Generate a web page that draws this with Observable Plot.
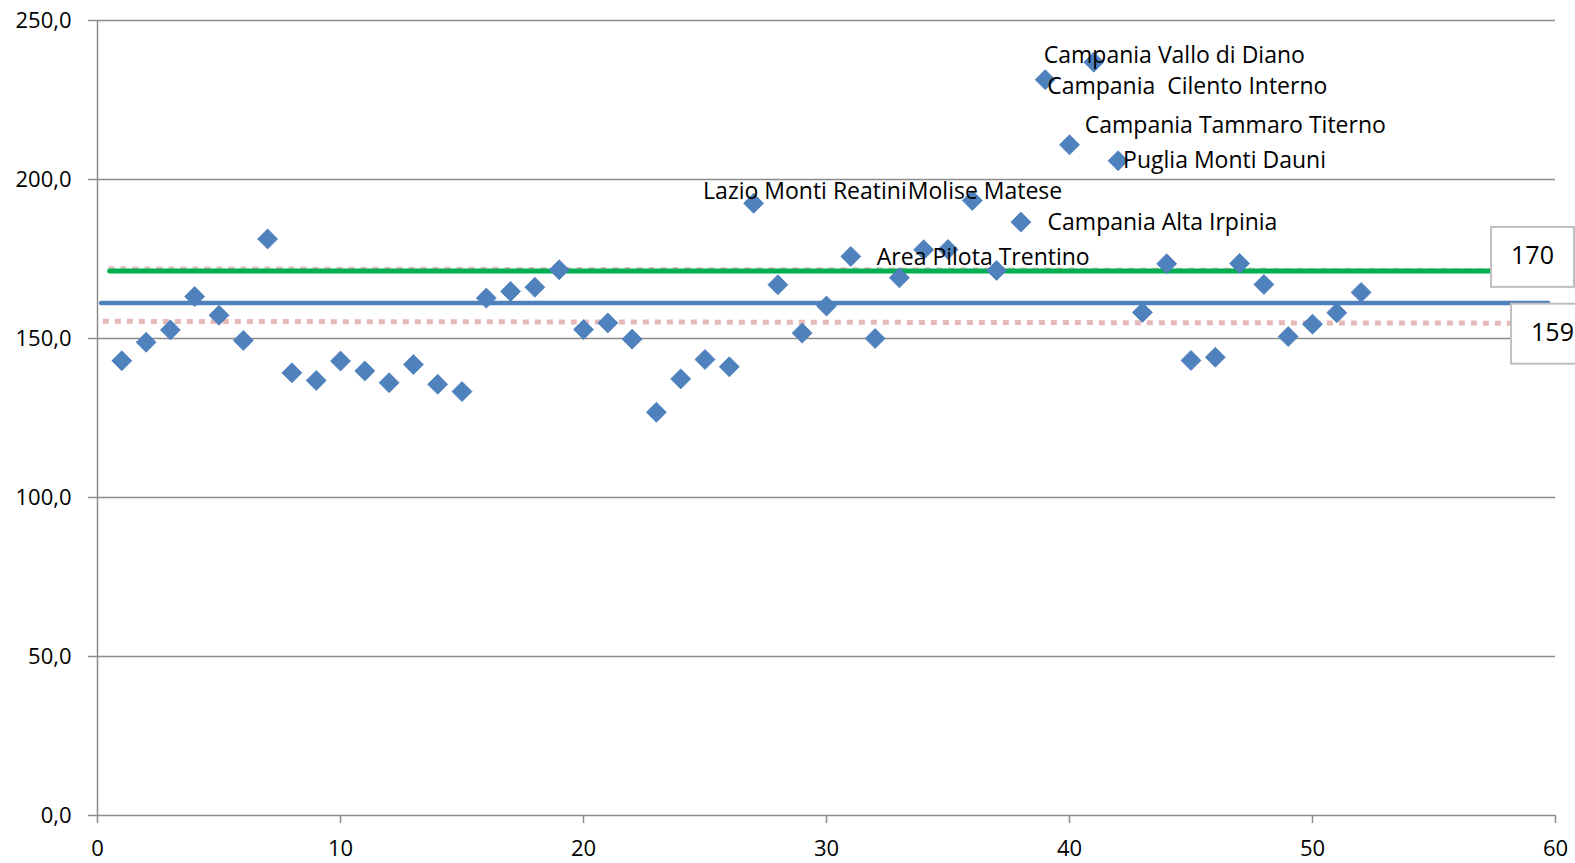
<!DOCTYPE html>
<html><head><meta charset="utf-8">
<script src="https://cdn.jsdelivr.net/npm/d3@7"></script>
<script src="https://cdn.jsdelivr.net/npm/@observablehq/plot@0.6"></script>
<style>
html,body{margin:0;padding:0;background:#fff;}
#chart{width:1575px;height:863px;}
text{white-space:pre;font-variant-ligatures:none;}
</style></head><body><div id="chart"></div>
<script>
// ---- data ----
const pointX = [1,2,3,4,5,6,7,8,9,10,11,12,13,14,15,16,17,18,19,20,21,22,23,24,25,26,27,28,29,30,31,32,33,34,35,36,37,38,39,40,41,42,43,44,45,46,47,48,49,50,51,52];
const pointY = [143.0,148.8,152.7,163.2,157.3,149.4,181.3,139.2,136.8,142.9,139.8,136.1,141.8,135.6,133.3,162.7,164.8,166.1,171.6,152.8,154.9,149.8,126.8,137.3,143.4,141.1,192.5,166.9,151.7,160.2,175.8,150.0,169.1,177.9,178.0,193.4,171.4,186.6,231.4,210.9,236.9,205.9,158.2,173.5,143.1,144.1,173.6,167.0,150.6,154.5,158.1,164.5];

const labelNames = ["Campania Vallo di Diano","Campania  Cilento Interno","Campania Tammaro Titerno","Puglia Monti Dauni","Campania Alta Irpinia","Lazio Monti Reatini","Molise Matese","Area Pilota Trentino"];
const labelPoints = [41,39,40,42,38,27,36,31];

const greenX = [0.5, 60];
const greenY = [171.2, 171.2];
const blueX = [0.15, 59.7];
const blueY = [161.2, 161.2];
const pinkUpperX = [0.45, 60.4];
const pinkUpperY = [171.9, 171.3];
const pinkLowerX = [0.22, 60.4];
const pinkLowerY = [155.4, 154.8];

const boxLabels = ["170", "159"];

const xTicks = [0,10,20,30,40,50,60];
const yTicks = [0,50,100,150,200,250];

// ---- build ----
const points = pointX.map((x,i)=>({x, y: pointY[i]}));
const toLine = (xs, ys) => xs.map((x,i)=>({x, y: ys[i]}));

// per-label pixel offsets (dx, baseline offset from point)
const labelOffsets = [[-50,1],[2,14.3],[15.3,-11.6],[5,7],[26.7,8.3],[-50.5,-4.4],[-64.5,-1.7],[26,9]];
const LFS = 23;
const FONT = "'Open Sans', 'Noto Sans', sans-serif";
const labelMarks = labelNames.map((name,i)=>{
  const px = labelPoints[i];
  const d = [{x: px, y: pointY[px-1], name}];
  return Plot.text(d, {x:"x", y:"y", text:"name", textAnchor:"start", lineAnchor:"middle",
    dx: labelOffsets[i][0], dy: labelOffsets[i][1] - 0.32*LFS, fontSize: LFS, fill:"#000"});
});

const fmt = d => d.toFixed(1).replace(".", ",");
const gray = "#8c8c8c";
const AFS = 22;

const chart = Plot.plot({
  width: 1575, height: 863,
  marginLeft: 97, marginRight: 20, marginTop: 20, marginBottom: 48,
  x: {domain:[0,60]},
  y: {domain:[0,250]},
  style: {fontFamily: FONT, fontSize: AFS + "px", color:"#000", background:"#fff"},
  marks: [
    Plot.ruleY(yTicks, {stroke: gray, strokeWidth: 1.5}),
    Plot.ruleX([0], {stroke: gray, strokeWidth: 1.5}),
    Plot.axisY({ticks: yTicks, tickFormat: fmt, tickSize: 9, tickPadding: 17, stroke: gray, strokeWidth: 1.5, fill:"#000", label: null, fontSize: AFS}),
    Plot.axisX({ticks: xTicks, tickFormat: d=>String(d), tickSize: 8, tickPadding: 17, stroke: gray, strokeWidth: 1.5, fill:"#000", label: null, fontSize: AFS}),
    Plot.line(toLine(pinkLowerX, pinkLowerY), {x:"x", y:"y", stroke:"#E6B9B8", strokeWidth:5, strokeDasharray:"6,6", strokeLinecap:"butt"}),
    Plot.line(toLine(blueX, blueY), {x:"x", y:"y", stroke:"#4F81BD", strokeWidth:4.5}),
    Plot.line(toLine(pinkUpperX, pinkUpperY), {x:"x", y:"y", stroke:"#E6B9B8", strokeWidth:5, strokeDasharray:"6,6", strokeLinecap:"butt"}),
    Plot.line(toLine(greenX, greenY), {x:"x", y:"y", stroke:"#00B050", strokeWidth:5}),
    Plot.dot(points, {x:"x", y:"y", symbol:"diamond2", r:9, fill:"#4F81BD", stroke:"#4A7EBB", strokeWidth:0.8}),
    ...labelMarks,
    Plot.text([{x: greenX[1], y: greenY[1], t: boxLabels[0]}], {x:"x", y:"y", text:"t", textAnchor:"middle", lineAnchor:"middle", dx:-23, dy:-14.7, fontSize:25, fill:"#000", className:"boxlabel"}),
    Plot.text([{x: greenX[1], y: blueY[1], t: boxLabels[1]}], {x:"x", y:"y", text:"t", textAnchor:"middle", lineAnchor:"middle", dx:-3, dy:30.3, fontSize:25, fill:"#000", className:"boxlabel"})
  ]
});
document.getElementById("chart").appendChild(chart);

// boxes behind the line-value labels, sized from the text bbox
d3.select(chart).selectAll("g.boxlabel text").each(function(){
  const bb = this.getBBox();
  const g = this.parentNode;
  const cy = bb.y + bb.height/2 + 2.5;
  const rect = document.createElementNS("http://www.w3.org/2000/svg","rect");
  rect.setAttribute("x", bb.x - 20);
  rect.setAttribute("y", cy - 30);
  rect.setAttribute("width", bb.width + 40);
  rect.setAttribute("height", 60);
  rect.setAttribute("fill", "#fff");
  rect.setAttribute("stroke", "#BFBFBF");
  rect.setAttribute("stroke-width", 2);
  const t = this.getAttribute("transform");
  if (t) rect.setAttribute("transform", t);
  g.insertBefore(rect, this);
});
</script>
</body></html>
